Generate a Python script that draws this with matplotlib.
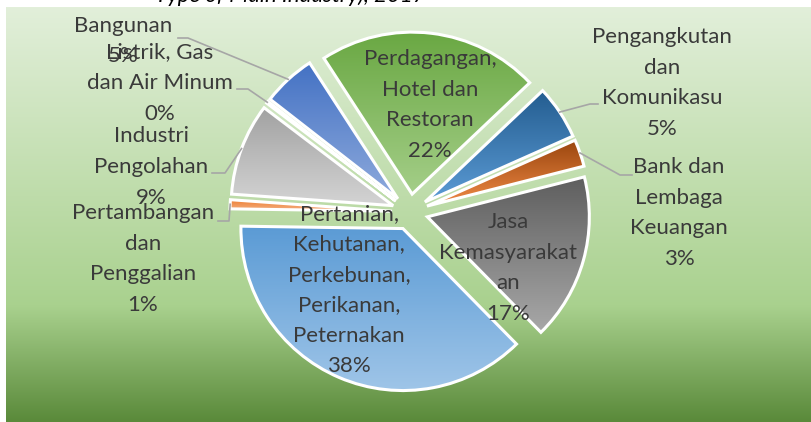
import numpy as np
import matplotlib
matplotlib.use("Agg")
import matplotlib.pyplot as plt
from matplotlib.colors import LinearSegmentedColormap

# share of workers by main industry, 2017 (clockwise from the top)
sectors = [
    "Perdagangan,\nHotel dan\nRestoran",
    "Pengangkutan\ndan\nKomunikasu",
    "Bank dan\nLembaga\nKeuangan",
    "Jasa\nKemasyarakat\nan",
    "Pertanian,\nKehutanan,\nPerkebunan,\nPerikanan,\nPeternakan",
    "Pertambangan\ndan\nPenggalian",
    "Industri\nPengolahan",
    "Listrik, Gas\ndan Air Minum",
    "Bangunan",
]
shares = [22.1, 5.4, 2.7, 16.6, 37.6, 0.9, 9.2, 0.2, 5.3]

# gradient fills, top -> bottom
grad_top = ["#6aa843", "#245d90", "#9a460e", "#5e5e5e", "#5b9bd5",
            "#ed7d31", "#a2a2a2", "#ffc000", "#4472c4"]
grad_bot = ["#a4ce88", "#5b9bd5", "#f08a46", "#a8a8a8", "#9fc5e8",
            "#f4b183", "#d4d4d4", "#ffe699", "#8eaadc"]

W, H = 811, 422
CX, CY, R = 410, 212, 162  # pie centre / radius in pixels


def px(x, y):
    return ((x - CX) / R, (CY - y) / R)


# label block centres (pixels) and leader line start points
label_pos = [(430, 105), (662, 83), (679, 213), (508, 268), (349, 290),
             (143, 259), (151, 167), (160, 83), (123, 41)]
leaders = {1: [(598, 104), (590, 104)], 2: [(632, 175), (620, 175)],
           5: [(218, 221), (229, 221)], 6: [(212, 173), (225, 173)],
           7: [(237, 89), (248, 89)], 8: [(178, 38), (188, 38)]}

fig = plt.figure(figsize=(W / 100, H / 100), dpi=100)
fig.patch.set_facecolor("white")

# plot area background
bg = fig.add_axes([6 / W, 0, 1 - 6 / W, (H - 7) / H])
bg_cmap = LinearSegmentedColormap.from_list(
    "bg", [(0, "#e2efda"), (0.72, "#a9d18e"), (1.0, "#5a8a3a")])
bg.imshow(np.linspace(0, 1, 256).reshape(-1, 1), cmap=bg_cmap, aspect="auto")
bg.axis("off")

ax = fig.add_axes([0, 0, 1, 1])
ax.patch.set_alpha(0)
wedges, _ = ax.pie(shares, startangle=123, counterclock=False,
                   explode=[18 / R] * len(shares), radius=1,
                   wedgeprops=dict(edgecolor="white", linewidth=2.2))

for i, w in enumerate(wedges):
    bb = w.get_path().get_extents()
    cm = LinearSegmentedColormap.from_list("w%d" % i, [grad_top[i], grad_bot[i]])
    im = ax.imshow(np.linspace(0, 1, 128).reshape(-1, 1), cmap=cm,
                   extent=(bb.x0, bb.x1, bb.y0, bb.y1), aspect="auto",
                   zorder=1.5)
    im.set_clip_path(w)
    w.set_facecolor("none")
    w.set_zorder(2)

total = sum(shares)
for i, (name, v) in enumerate(zip(sectors, shares)):
    tx, ty = px(*label_pos[i])
    ax.text(tx, ty, f"{name}\n{v / total * 100:.0f}%", ha="center",
            va="center", multialignment="center", fontsize=16,
            family="Lato", color="#3a3a3a", linespacing=1.66, zorder=5)
    if i in leaders:
        w = wedges[i]
        mid = np.deg2rad((w.theta1 + w.theta2) / 2)
        ex = w.center[0] + w.r * np.cos(mid)
        ey = w.center[1] + w.r * np.sin(mid)
        pts = [px(*p) for p in leaders[i]] + [(ex, ey)]
        ax.plot([p[0] for p in pts], [p[1] for p in pts], color="#a6a6a6",
                linewidth=1.2, zorder=4)

ax.set_xlim(-CX / R, (W - CX) / R)
ax.set_ylim(-(H - CY) / R, CY / R)
ax.set_aspect("auto")
ax.axis("off")

# title sits mostly above the visible area, as in the original crop
fig.text(290 / W, 1 - 2 / H, "Type of Main Industry), 2017", ha="center",
         va="baseline", fontsize=16, style="italic", family="Lato",
         color="black")

fig.savefig("out.png", dpi=100)
